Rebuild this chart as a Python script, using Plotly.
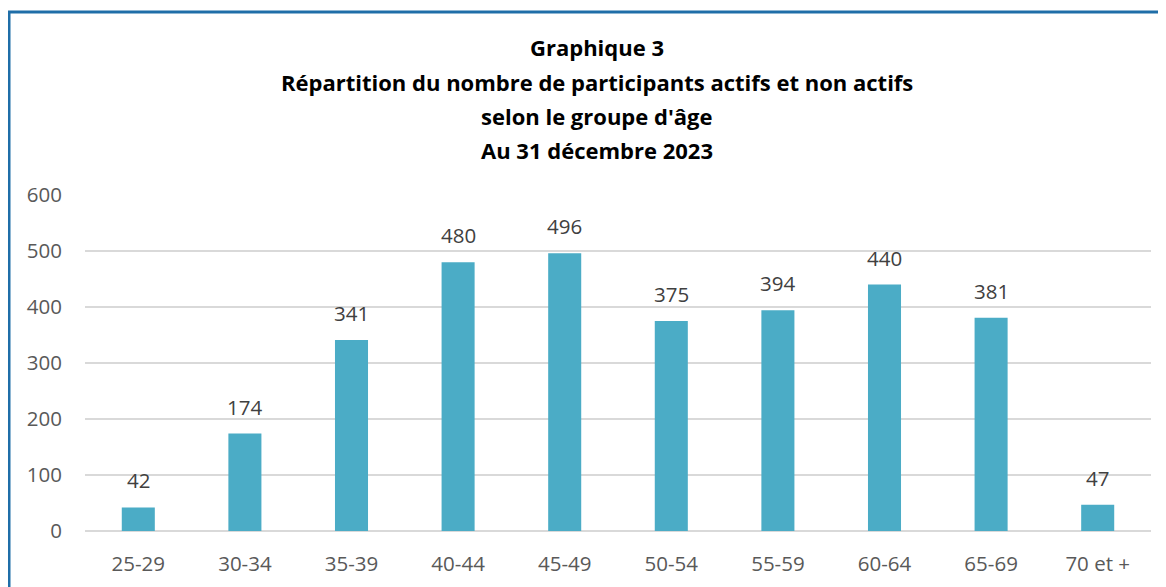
import plotly.graph_objects as go

categories = ["25-29", "30-34", "35-39", "40-44", "45-49", "50-54", "55-59", "60-64", "65-69", "70 et +"]
values = [42, 174, 341, 480, 496, 375, 394, 440, 381, 47]
title_lines = [
    "Graphique 3",
    "Répartition du nombre de participants actifs et non actifs",
    "selon le groupe d'âge",
    "Au 31 décembre 2023",
]
y_ticks = [0, 100, 200, 300, 400, 500, 600]

OFF = 8  # default page body margin
W, H = 1166 - OFF, 587 - OFF
L, T = 85 - OFF, 195 - OFF
R = W - (1151 - OFF)
B = H - (531 - OFF)
pw, ph = W - L - R, H - T - B

FONT = "Open Sans, Noto Sans, sans-serif"

fig = go.Figure()
fig.add_trace(go.Bar(
    x=categories, y=values, marker=dict(color="#4BACC6", line=dict(width=0)),
    hoverinfo="x+y",
))

for c, v in zip(categories, values):
    fig.add_annotation(x=c, y=v, text=str(v), showarrow=False, yanchor="bottom",
                       yshift=11, font=dict(family=FONT, size=20.5, color="#404040"))

title_y_px = [47, 82, 116, 150]
for line, ypx in zip(title_lines, title_y_px):
    fig.add_annotation(xref="paper", yref="paper", x=(597 - 85) / pw, y=1 + (195 - ypx) / ph,
                       text=f"<b>{line}</b>", showarrow=False, xanchor="center", yanchor="middle",
                       font=dict(family=FONT, size=22, color="#000000"))

# chart border (left/top visible)
fig.add_shape(type="rect", xref="paper", yref="paper",
              x0=(9 - 85) / pw, x1=1.2, y0=-0.5, y1=1 + (195 - 12) / ph,
              line=dict(color="#1F6EA8", width=3), fillcolor="rgba(0,0,0,0)", layer="above")

fig.update_layout(
    width=W, height=H,
    margin=dict(l=L, r=R, t=T, b=B, autoexpand=False),
    paper_bgcolor="white", plot_bgcolor="white",
    bargap=0.69, showlegend=False,
    font=dict(family=FONT, size=20.5, color="#595959"),
)
fig.update_xaxes(showgrid=False, showline=False, ticks="", ticklabelstandoff=18,
                 tickfont=dict(family=FONT, size=20.5, color="#595959"))
fig.update_yaxes(range=[0, 600], tickvals=y_ticks, showgrid=True, gridcolor="#D9D9D9", gridwidth=1.5,
                 zeroline=True, zerolinecolor="#D9D9D9", zerolinewidth=1.5, showline=False, ticks="",
                 ticklabelstandoff=22, tickfont=dict(family=FONT, size=20.5, color="#595959"))

fig.write_html("out.html")
